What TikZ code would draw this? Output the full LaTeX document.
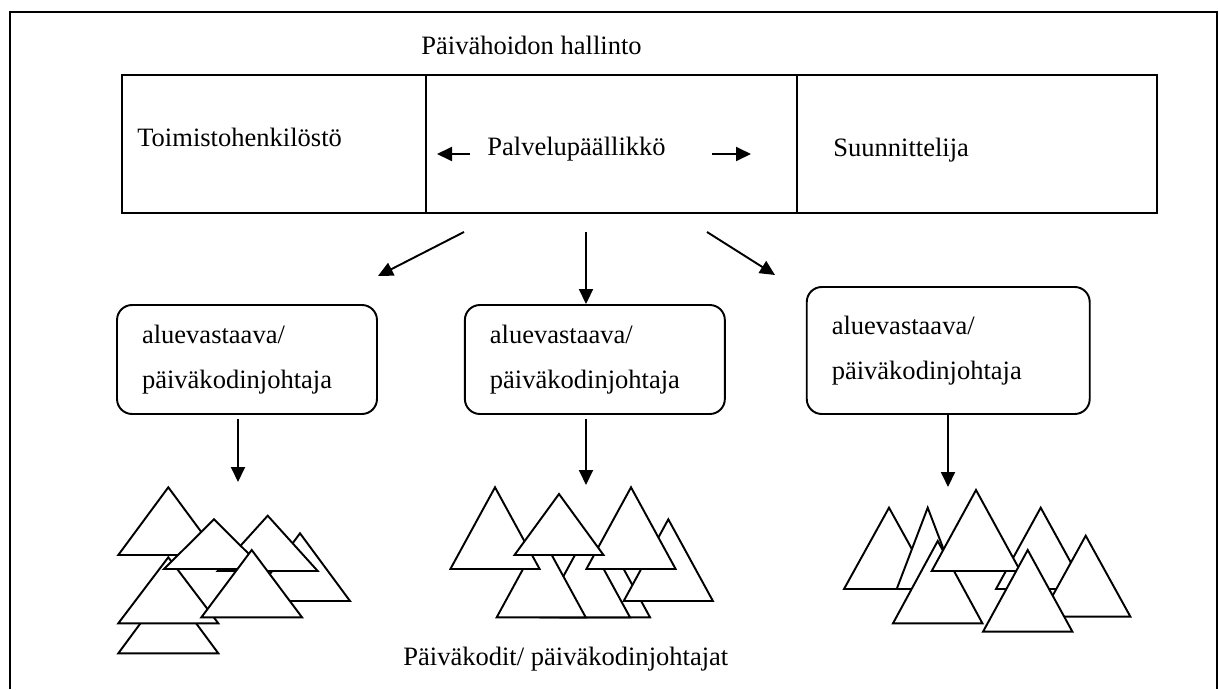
\documentclass[tikz,border=0pt]{standalone}
\usepackage{fontspec}
\setmainfont{Liberation Serif}
\usetikzlibrary{arrows.meta,positioning}

\begin{document}
\begin{tikzpicture}[
  x=0.02cm, y=-0.02cm,
  cell/.style={
    draw,
    line width=1.1pt,
    minimum height=2.76cm,
    inner sep=0pt,
    outer sep=0pt
  },
  area/.style={
    draw,
    line width=1.1pt,
    rounded corners=0.3cm,
    align=left,
    text width=4.2cm,
    minimum height=2.18cm,
    inner xsep=0.5cm
  },
  txt/.style={anchor=base west, inner sep=0pt},
  tri/.style={draw, fill=white, line width=1.1pt},
  arr/.style={-{Triangle[length=0.3cm, width=0.28cm]}, line width=1.1pt},
  font=\fontsize{15.1pt}{25.6pt}\selectfont
]
\useasboundingbox (0,0) rectangle (1219,689);
\draw[line width=1.1pt] (10,689) -- (10,12) -- (1217,12) -- (1217,689);

\node[txt] (title) at (421,55) {Päivähoidon hallinto};
\node[cell, minimum width=6.08cm] (office) at (274,144) {};
\node[cell, minimum width=7.42cm, right=0pt of office] (chief) {};
\node[cell, minimum width=7.2cm, right=0pt of chief] (planner) {};
\node[txt] (officetxt) at (137,147) {Toimistohenkilöstö};
\node[txt] (chieftxt) at (487,155) {Palvelupäällikkö};
\node[txt] (plannertxt) at (833,157) {Suunnittelija};

\coordinate (toleft) at (437,154);
\coordinate (toright) at (751,154);
\draw[arr, shorten <=0.34cm] (chieftxt.west |- toleft) -- (toleft);
\draw[arr, shorten <=0.92cm] (chieftxt.east |- toright) -- (toright);

\node[area] (area1) at (247,359.5) {aluevastaava/\\päiväkodinjohtaja};
\node[area, right=1.72cm of area1] (area2) {aluevastaava/\\päiväkodinjohtaja};
\node[area, text width=4.66cm, minimum height=2.54cm, right=1.6cm of area2.south east, anchor=south west] (area3) {aluevastaava/\\päiväkodinjohtaja};

\coordinate (ls) at (464,232);
\coordinate (le) at (378,276);
\coordinate (ms) at (586,232);
\coordinate (rs) at (707,232);
\coordinate (re) at (775,275);
\draw[arr] (ls) -- (le);
\draw[arr] (ms) -- (ms |- area2.north);
\draw[arr] (rs) -- (re);

\coordinate (h1) at (238,482);
\coordinate (h2) at (586,485);
\coordinate (h3) at (948,487);
\draw[arr, shorten <=0.08cm] (h1 |- area1.south) -- (h1);
\draw[arr, shorten <=0.08cm] (h2 |- area2.south) -- (h2);
\draw[arr] (h3 |- area3.south) -- (h3);

% triangles, back to front: apex x / apex y / half width / base y
\foreach \ax/\ay/\hw/\by in {
    168.3/585.7/50/653.3, 168.3/487.3/50/555, 168.3/557.3/50/623.3,
    300/533.3/50/601, 267.7/515.7/50/571, 214/519.3/50/569, 251.7/550/50.3/617.3,
    605.5/535.7/44.5/617.3, 585.5/535.7/44.5/617.3, 541.2/535.7/44.5/617.3,
    495/487.3/44.6/569, 668.3/519.3/44.6/601, 631/487.3/44.6/569, 559/494/44.5/555,
    889/507.7/45/589, 927.7/507.7/31/589, 937.7/541/44.7/623.3, 1040.7/507.7/44.7/589,
    976/490/44.3/571, 1085.7/535.7/44.7/616.7, 1027.7/550/44.7/631.7}
  \draw[tri] (\ax-\hw,\by) -- (\ax,\ay) -- (\ax+\hw,\by) -- cycle;

\node[txt] (homes) at (403,665) {Päiväkodit/ päiväkodinjohtajat};
\end{tikzpicture}
\end{document}
